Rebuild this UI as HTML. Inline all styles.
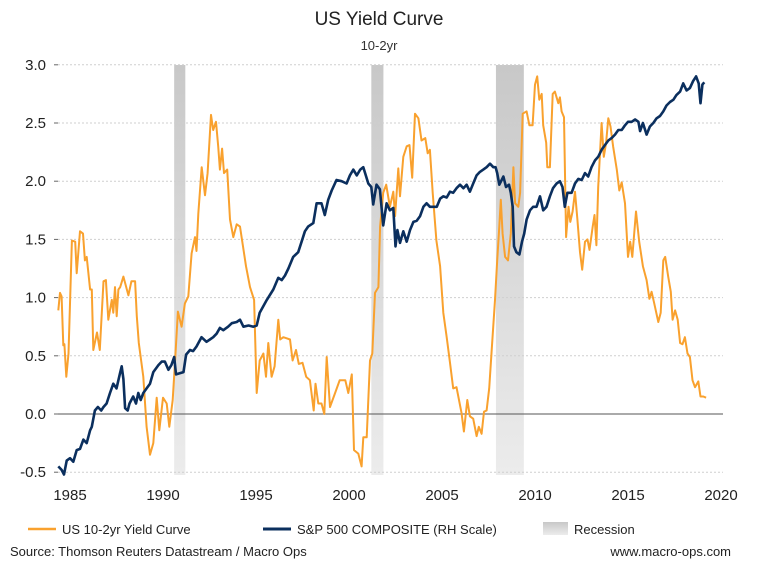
<!DOCTYPE html>
<html><head><meta charset="utf-8"><style>
body{margin:0;background:#fff;width:758px;height:583px;overflow:hidden;font-family:"Liberation Sans",Arial,sans-serif}
svg text{font-family:"Liberation Sans",Arial,sans-serif}
</style></head><body>
<svg id="chart" width="758" height="583" viewBox="0 0 758 583" xmlns="http://www.w3.org/2000/svg">
<defs><linearGradient id="recg" x1="0" y1="0" x2="0" y2="1"><stop offset="0" stop-color="#c8c8c8"/><stop offset="1" stop-color="#ececec"/></linearGradient></defs>
<text x="379" y="25" text-anchor="middle" font-size="19" fill="#222">US Yield Curve</text>
<text x="379" y="50" text-anchor="middle" font-size="13" fill="#333">10-2yr</text>
<g id="recessions"></g>
<g id="grid"></g>
<g id="yaxis"></g>
<g id="xaxis"></g>
<g id="series"></g>
<g>
<line x1="28" y1="529" x2="56" y2="529" stroke="#F9A12E" stroke-width="2.5"/>
<text x="62" y="534" font-size="13" fill="#222">US 10-2yr Yield Curve</text>
<line x1="263" y1="529" x2="291" y2="529" stroke="#0B2F5E" stroke-width="3"/>
<text x="297" y="534" font-size="13" fill="#222">S&amp;P 500 COMPOSITE (RH Scale)</text>
<rect x="543" y="522" width="25" height="13" fill="url(#recg)"/>
<text x="574" y="534" font-size="13" fill="#222">Recession</text>
</g>
<text x="10" y="556" font-size="13" fill="#222">Source: Thomson Reuters Datastream / Macro Ops</text>
<text x="731" y="556" text-anchor="end" font-size="13" fill="#222">www.macro-ops.com</text>
</svg>
<script>
const yTicks=[3.0,2.5,2.0,1.5,1.0,0.5,0.0,-0.5];
const yTickLabels=["3.0","2.5","2.0","1.5","1.0","0.5","0.0","-0.5"];
const xTicks=[1985,1990,1995,2000,2005,2010,2015,2020];
const recessionStarts=[1990.6,2001.2,2007.9];
const recessionEnds=[1991.2,2001.85,2009.4];
const yieldYears=[1984.37,1984.46,1984.55,1984.64,1984.7,1984.8,1984.92,1985.1,1985.28,1985.36,1985.54,1985.7,1985.8,1985.9,1986.08,1986.17,1986.25,1986.45,1986.6,1986.8,1986.93,1987.06,1987.25,1987.33,1987.42,1987.51,1987.6,1987.7,1987.87,1988.14,1988.3,1988.5,1988.59,1988.7,1988.94,1989.12,1989.3,1989.48,1989.66,1989.8,1990.0,1990.2,1990.34,1990.52,1990.65,1990.8,1991.0,1991.18,1991.36,1991.54,1991.72,1991.8,1991.9,1992.08,1992.26,1992.4,1992.58,1992.7,1992.85,1992.97,1993.06,1993.18,1993.28,1993.45,1993.6,1993.78,1993.96,1994.14,1994.3,1994.46,1994.68,1994.9,1995.04,1995.2,1995.4,1995.54,1995.66,1995.84,1996.0,1996.2,1996.3,1996.47,1996.65,1996.83,1996.97,1997.15,1997.3,1997.5,1997.7,1997.9,1998.1,1998.2,1998.35,1998.52,1998.67,1998.8,1998.98,1999.25,1999.5,1999.8,1999.96,2000.15,2000.27,2000.5,2000.68,2000.77,2000.95,2001.13,2001.25,2001.4,2001.58,2001.67,2001.84,2002.0,2002.2,2002.38,2002.48,2002.65,2002.74,2002.92,2003.1,2003.25,2003.4,2003.55,2003.73,2003.9,2004.1,2004.23,2004.35,2004.5,2004.7,2004.9,2005.07,2005.25,2005.43,2005.6,2005.78,2006.05,2006.18,2006.36,2006.5,2006.68,2006.86,2006.98,2007.13,2007.26,2007.4,2007.54,2007.67,2007.85,2007.97,2008.08,2008.16,2008.26,2008.39,2008.55,2008.7,2008.84,2008.93,2009.1,2009.2,2009.34,2009.55,2009.7,2009.87,2010.0,2010.12,2010.23,2010.36,2010.44,2010.6,2010.66,2010.8,2010.95,2011.07,2011.25,2011.34,2011.43,2011.56,2011.67,2011.8,2011.9,2012.02,2012.15,2012.28,2012.42,2012.54,2012.69,2012.82,2012.93,2013.1,2013.2,2013.3,2013.4,2013.58,2013.7,2013.82,2013.94,2014.06,2014.2,2014.4,2014.53,2014.66,2014.84,2015.0,2015.12,2015.23,2015.43,2015.6,2015.8,2016.0,2016.15,2016.27,2016.4,2016.63,2016.76,2016.9,2017.0,2017.16,2017.3,2017.4,2017.53,2017.67,2017.8,2017.93,2018.06,2018.2,2018.33,2018.47,2018.6,2018.78,2018.9,2019.05,2019.2];
const yieldValues=[0.89,1.04,1.01,0.59,0.6,0.32,0.52,1.49,1.48,1.21,1.57,1.55,1.32,1.35,1.07,1.07,0.55,0.70,0.55,1.14,1.15,0.81,0.98,0.87,1.09,0.84,1.07,1.09,1.18,1.02,1.14,1.14,0.84,0.61,0.32,-0.11,-0.35,-0.25,0.14,-0.14,0.14,0.09,-0.11,0.12,0.46,0.88,0.75,0.95,1.01,1.38,1.52,1.40,1.72,2.12,1.88,2.07,2.57,2.44,2.51,2.30,2.10,2.28,2.07,2.10,1.67,1.52,1.63,1.61,1.44,1.27,1.09,0.98,0.18,0.46,0.52,0.32,0.61,0.32,0.41,0.81,0.64,0.66,0.65,0.64,0.46,0.55,0.43,0.44,0.32,0.29,0.03,0.26,0.09,0.09,0.0,0.49,0.06,0.18,0.29,0.29,0.18,0.34,-0.31,-0.34,-0.45,-0.20,-0.20,0.46,0.52,1.04,1.09,1.61,1.90,1.97,1.78,1.91,1.70,2.11,1.87,2.21,2.30,2.31,2.03,2.58,2.54,2.35,2.37,2.24,2.27,1.90,1.49,1.27,0.87,0.66,0.44,0.22,0.23,0.01,-0.15,0.12,-0.02,-0.04,-0.19,-0.11,-0.17,0.02,0.03,0.22,0.55,0.98,1.32,1.61,1.84,1.55,1.35,1.32,1.55,2.12,1.81,1.78,1.90,2.58,2.60,2.48,2.48,2.83,2.90,2.70,2.75,2.48,2.33,2.12,2.12,2.75,2.77,2.67,2.72,2.60,2.55,1.52,1.78,1.65,1.74,1.91,1.67,1.39,1.24,1.48,1.50,1.41,1.61,1.71,1.45,1.95,2.50,2.21,2.33,2.54,2.47,2.30,2.10,1.92,1.99,1.81,1.35,1.48,1.35,1.74,1.48,1.27,1.15,0.99,1.05,0.96,0.79,0.87,1.32,1.35,1.18,1.05,0.81,0.89,0.81,0.61,0.60,0.66,0.52,0.49,0.29,0.23,0.28,0.15,0.15,0.14];
const spxYears=[1984.37,1984.55,1984.68,1984.82,1985.0,1985.18,1985.36,1985.54,1985.72,1985.9,1986.08,1986.17,1986.34,1986.5,1986.68,1986.8,1986.97,1987.15,1987.33,1987.5,1987.69,1987.78,1987.87,1987.96,1988.1,1988.2,1988.4,1988.55,1988.67,1988.8,1988.94,1989.12,1989.3,1989.48,1989.75,1989.93,1990.1,1990.29,1990.45,1990.6,1990.7,1990.9,1991.1,1991.24,1991.45,1991.62,1991.8,1992.07,1992.34,1992.52,1992.7,1992.88,1993.06,1993.24,1993.5,1993.7,1993.96,1994.14,1994.32,1994.6,1994.86,1995.04,1995.2,1995.58,1995.93,1996.2,1996.38,1996.56,1996.74,1997.0,1997.27,1997.45,1997.63,1997.8,1998.08,1998.26,1998.52,1998.7,1998.88,1999.07,1999.33,1999.6,1999.87,2000.05,2000.23,2000.42,2000.6,2000.77,2001.04,2001.2,2001.3,2001.48,2001.66,2001.84,2002.02,2002.2,2002.38,2002.5,2002.6,2002.74,2002.92,2003.1,2003.28,2003.46,2003.64,2003.82,2004.0,2004.17,2004.35,2004.53,2004.72,2004.9,2005.07,2005.25,2005.43,2005.6,2005.78,2005.97,2006.15,2006.32,2006.5,2006.68,2006.86,2007.04,2007.22,2007.4,2007.58,2007.76,2007.88,2007.97,2008.08,2008.3,2008.44,2008.6,2008.7,2008.8,2008.87,2009.0,2009.16,2009.3,2009.42,2009.55,2009.73,2009.9,2010.08,2010.27,2010.44,2010.62,2010.8,2010.97,2011.16,2011.34,2011.48,2011.6,2011.74,2011.97,2012.15,2012.33,2012.51,2012.69,2012.86,2013.04,2013.23,2013.4,2013.58,2013.76,2013.94,2014.12,2014.3,2014.48,2014.66,2014.84,2015.0,2015.2,2015.38,2015.56,2015.65,2015.8,2016.0,2016.18,2016.36,2016.54,2016.72,2016.9,2017.07,2017.26,2017.44,2017.6,2017.8,2017.97,2018.15,2018.33,2018.5,2018.66,2018.8,2018.9,2019.0,2019.1];
const spxValues=[-0.45,-0.48,-0.52,-0.40,-0.38,-0.41,-0.31,-0.30,-0.22,-0.25,-0.14,-0.11,0.03,0.06,0.03,0.06,0.09,0.18,0.26,0.22,0.35,0.41,0.30,0.05,0.03,0.09,0.15,0.09,0.18,0.12,0.18,0.22,0.26,0.36,0.42,0.45,0.45,0.38,0.42,0.49,0.34,0.35,0.36,0.51,0.55,0.54,0.58,0.66,0.62,0.64,0.66,0.69,0.74,0.72,0.75,0.78,0.79,0.81,0.75,0.76,0.75,0.76,0.87,0.98,1.07,1.17,1.15,1.19,1.25,1.35,1.39,1.48,1.57,1.61,1.64,1.81,1.81,1.71,1.84,1.92,2.01,2.00,1.98,2.05,2.10,2.05,2.10,2.12,1.98,1.95,1.80,1.97,1.93,1.62,1.81,1.75,1.77,1.44,1.58,1.47,1.57,1.48,1.58,1.65,1.66,1.70,1.78,1.81,1.78,1.78,1.78,1.85,1.87,1.86,1.91,1.90,1.94,1.97,1.94,1.97,1.91,1.98,2.05,2.08,2.10,2.12,2.15,2.12,2.12,2.07,1.97,2.04,1.95,1.97,1.90,1.78,1.44,1.39,1.37,1.48,1.55,1.67,1.75,1.78,1.78,1.87,1.75,1.78,1.87,1.94,1.98,2.00,1.95,1.78,1.90,1.90,1.98,2.02,2.01,2.07,2.04,2.12,2.18,2.21,2.27,2.31,2.35,2.37,2.40,2.44,2.44,2.48,2.51,2.51,2.53,2.51,2.43,2.50,2.40,2.47,2.50,2.54,2.56,2.60,2.65,2.68,2.70,2.74,2.77,2.84,2.78,2.80,2.86,2.90,2.84,2.67,2.83,2.85];

const NS='http://www.w3.org/2000/svg';
const L=58,R=723,T=65,B=473;
function xs(yr){return 70+(yr-1985)*18.6;}
function ys(v){return 414-v*116.4;}
function mk(tag,attrs,parent){const e=document.createElementNS(NS,tag);for(const k in attrs)e.setAttribute(k,attrs[k]);parent.appendChild(e);return e;}
const gRec=document.getElementById('recessions');
recessionStarts.forEach((s,i)=>{
  const r=mk('rect',{x:xs(s),y:T,width:xs(recessionEnds[i])-xs(s),height:B-T+2,fill:'url(#recg)'},gRec);
  
  
});
const gGrid=document.getElementById('grid'),gY=document.getElementById('yaxis');
yTicks.forEach((v,i)=>{
  if(v!==0){const l=mk('line',{x1:L,x2:R,y1:ys(v),y2:ys(v),stroke:'#cfcfcf','stroke-width':1,'stroke-dasharray':'2,2'},gGrid);
  
  }
  const tk=mk('line',{x1:L-4,x2:L,y1:ys(v),y2:ys(v),stroke:'#666'},gY);
  
  
  const t=mk('text',{x:L-12,y:ys(v)+5,'text-anchor':'end','font-size':15,fill:'#222'},gY);
  t.textContent=yTickLabels[i];
  
  
});
const zero=mk('line',{x1:L,x2:R,y1:ys(0),y2:ys(0),stroke:'#555','stroke-width':1},gGrid);


const gX=document.getElementById('xaxis');
xTicks.forEach(yr=>{
  const t=mk('text',{x:xs(yr),y:500,'text-anchor':'middle','font-size':15,fill:'#222'},gX);
  t.textContent=String(yr);
  
  
});
const gS=document.getElementById('series');
function path(xa,va){return xa.map((x,i)=>(i?'L':'M')+xs(x).toFixed(1)+','+ys(va[i]).toFixed(1)).join('');}
const py=mk('path',{d:path(yieldYears,yieldValues),fill:'none',stroke:'#F9A12E','stroke-width':2,'stroke-linejoin':'round'},gS);


const ps=mk('path',{d:path(spxYears,spxValues),fill:'none',stroke:'#0B2F5E','stroke-width':2.6,'stroke-linejoin':'round'},gS);


</script>
</body></html>
